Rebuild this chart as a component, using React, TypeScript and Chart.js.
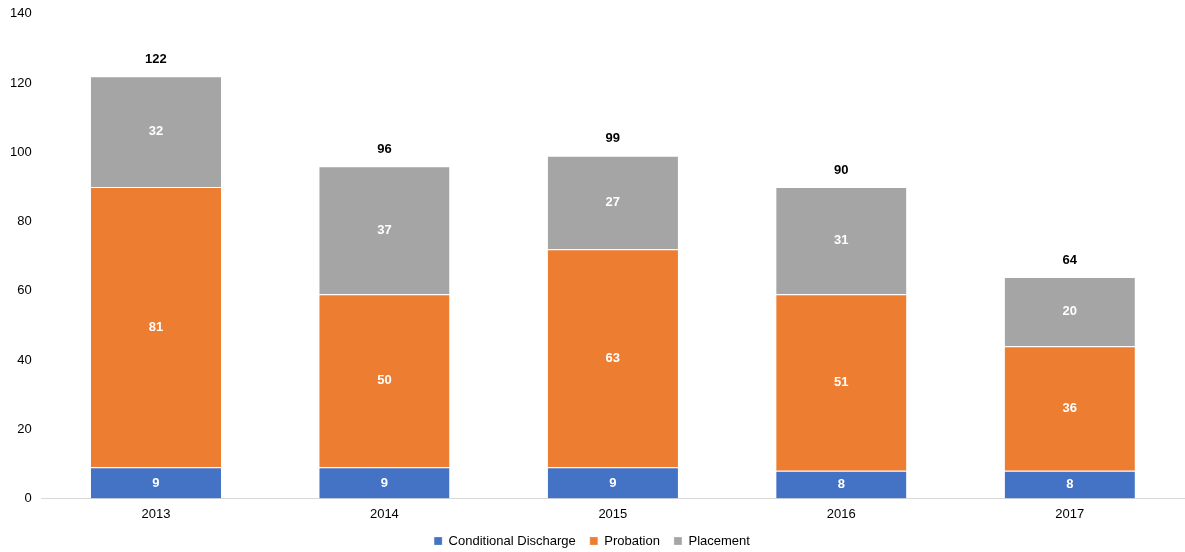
import { useEffect, useRef } from 'react';
import { Chart, registerables, Plugin } from 'chart.js';

Chart.register(...registerables);

const years = ['2013', '2014', '2015', '2016', '2017'];
const conditionalDischarge = [9, 9, 9, 8, 8];
const probation = [81, 50, 63, 51, 36];
const placement = [32, 37, 27, 31, 20];
const totals = [122, 96, 99, 90, 64];

const FONT = '"Liberation Sans", Arial, sans-serif';

// labels inside the segments and totals above the bars
const labelsPlugin: Plugin<'bar'> = {
  id: 'barLabels',
  afterDatasetsDraw(chart) {
    const ctx = chart.ctx;
    ctx.save();
    ctx.textAlign = 'center';
    ctx.textBaseline = 'middle';
    ctx.font = `bold 13px ${FONT}`;
    chart.data.datasets.forEach((ds, di) => {
      const meta = chart.getDatasetMeta(di);
      meta.data.forEach((bar: any, i) => {
        const v = ds.data[i] as number;
        ctx.fillStyle = '#ffffff';
        ctx.fillText(String(v), bar.x, (bar.y + bar.base) / 2);
      });
    });
    const top = chart.getDatasetMeta(chart.data.datasets.length - 1);
    top.data.forEach((bar: any, i) => {
      ctx.fillStyle = '#000000';
      ctx.fillText(String(totals[i]), bar.x, bar.y - 17);
    });
    ctx.restore();
  },
};

export default function App() {
  const canvasRef = useRef<HTMLCanvasElement>(null);

  useEffect(() => {
    document.body.style.margin = '0';
    if (!canvasRef.current) return;
    const seg = { top: 1, left: 0, right: 0, bottom: 0 };
    const chart = new Chart(canvasRef.current, {
      type: 'bar',
      data: {
        labels: years,
        datasets: [
          { label: 'Conditional Discharge', data: conditionalDischarge, backgroundColor: '#4472C4', borderColor: '#ffffff', borderWidth: seg, borderSkipped: false },
          { label: 'Probation', data: probation, backgroundColor: '#ED7D31', borderColor: '#ffffff', borderWidth: seg, borderSkipped: false },
          { label: 'Placement', data: placement, backgroundColor: '#A5A5A5', borderColor: '#ffffff', borderWidth: seg, borderSkipped: false },
        ],
      },
      options: {
        animation: false,
        responsive: false,
        devicePixelRatio: 1,
        layout: { padding: { top: 0, right: 1, left: 0, bottom: -5.5 } },
        datasets: { bar: { categoryPercentage: 1, barPercentage: 0.57 } },
        scales: {
          x: {
            stacked: true,
            grid: { display: false, drawTicks: false },
            border: { display: true, color: '#D9D9D9', width: 1 },
            ticks: { color: '#000', font: { family: FONT, size: 13, lineHeight: 1 }, padding: 9.5 },
            afterFit(scale) {
              scale.height = 22;
            },
          },
          y: {
            stacked: true,
            min: 0,
            max: 140,
            grid: { display: false, drawTicks: false },
            border: { display: false },
            ticks: { stepSize: 20, color: '#000', font: { family: FONT, size: 13, lineHeight: 0.6 }, padding: 10 },
          },
        },
        plugins: {
          legend: {
            position: 'bottom',
            labels: {
              color: '#000',
              font: { family: FONT, size: 13 },
              boxWidth: 8,
              boxHeight: 8,
              padding: 14,
            },
          },
          tooltip: { enabled: false },
        },
      },
      plugins: [labelsPlugin],
    });
    return () => chart.destroy();
  }, []);

  return (
    <div style={{ width: 1185, height: 552 }}>
      <canvas ref={canvasRef} width={1185} height={552} />
    </div>
  );
}
